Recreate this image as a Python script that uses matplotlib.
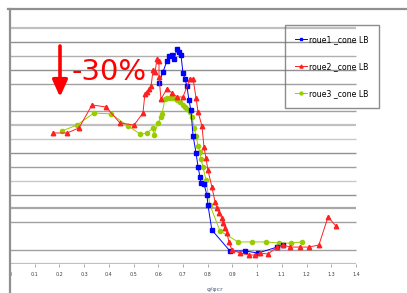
import matplotlib.pyplot as plt
from matplotlib.lines import Line2D

# data
roue1_x = [0.603, 0.619, 0.635, 0.643, 0.656, 0.664, 0.676, 0.684, 0.692, 0.700,
           0.708, 0.716, 0.724, 0.732, 0.741, 0.753, 0.761, 0.769, 0.773, 0.785,
           0.797, 0.801, 0.817, 0.890, 0.951, 1.004, 1.081, 1.105]
roue1_y = [13.04, 13.83, 14.63, 14.99, 15.06, 14.77, 15.49, 15.27, 15.06, 13.76,
           13.33, 12.82, 11.82, 11.10, 9.22, 8.00, 6.99, 6.27, 5.84, 5.76,
           4.97, 4.25, 2.45, 0.94, 0.94, 0.79, 1.22, 1.37]

roue2_x = [0.174, 0.231, 0.279, 0.332, 0.389, 0.445, 0.502, 0.538, 0.546, 0.554,
           0.563, 0.571, 0.579, 0.587, 0.595, 0.603, 0.603, 0.611, 0.635, 0.656,
           0.676, 0.700, 0.728, 0.741, 0.753, 0.761, 0.777, 0.785, 0.793, 0.801,
           0.817, 0.830, 0.838, 0.846, 0.858, 0.862, 0.870, 0.878, 0.886, 0.898,
           0.931, 0.967, 0.992, 1.012, 1.044, 1.081, 1.105, 1.133, 1.174, 1.210,
           1.250, 1.287, 1.319]
roue2_y = [9.44, 9.44, 9.80, 11.46, 11.31, 10.16, 10.01, 10.88, 12.25, 12.39,
           12.61, 12.82, 13.98, 13.83, 14.77, 14.63, 13.47, 11.89, 12.61, 12.32,
           12.03, 12.03, 13.33, 13.33, 11.96, 10.95, 9.94, 8.43, 7.64, 6.77,
           5.55, 4.47, 4.03, 3.67, 3.31, 2.95, 2.59, 2.23, 1.59, 1.01,
           0.79, 0.65, 0.65, 0.79, 0.72, 1.22, 1.37, 1.22, 1.22, 1.22,
           1.37, 3.39, 2.74]

roue3_x = [0.210, 0.271, 0.340, 0.409, 0.478, 0.526, 0.554, 0.579, 0.583, 0.599,
           0.611, 0.615, 0.627, 0.635, 0.648, 0.660, 0.676, 0.688, 0.700, 0.708,
           0.716, 0.728, 0.737, 0.745, 0.753, 0.761, 0.769, 0.773, 0.781, 0.793,
           0.809, 0.850, 0.923, 0.979, 1.036, 1.089, 1.137, 1.182]
roue3_y = [9.58, 10.01, 10.88, 10.81, 9.94, 9.37, 9.44, 9.80, 9.29, 10.16,
           10.59, 10.81, 11.89, 11.96, 11.96, 11.96, 11.82, 11.67, 11.46, 11.31,
           11.17, 10.95, 10.59, 9.80, 9.22, 8.50, 8.07, 7.56, 6.99, 6.05,
           4.25, 2.38, 1.59, 1.59, 1.59, 1.51, 1.51, 1.59]

x_ticks = [0, 0.1, 0.2, 0.3, 0.4, 0.5, 0.6, 0.7, 0.8, 0.9, 1, 1.1, 1.2, 1.3, 1.4]
x_tick_labels = ['0', '0.1', '0.2', '0.3', '0.4', '0.5', '0.6', '0.7', '0.8',
                 '0.9', '1', '1.1', '1.2', '1.3', '1.4']
grid_levels = [0, 1, 3, 4, 5, 6, 7, 8, 9, 10, 11, 13, 14, 15, 16, 17]
grid_colors = ['#c0c0c0', '#a0a0a0', '#a0a0a0', '#a8a8a8', '#909090', '#c8c8c8',
               '#a0a0a0', '#909090', '#c8c8c8', '#c0c0c0', '#a0a0a0', '#a0a0a0',
               '#909090', '#b0b0b0', '#909090', '#c0c0c0']

W, H = 407, 293
fig = plt.figure(figsize=(W / 100, H / 100), dpi=100)
fig.patch.set_facecolor('white')

# axes box in pixels: x 10..407, y 9..264
ax = fig.add_axes([10 / W, (H - 264) / H, (407 - 10) / W, (264 - 9) / H])
ax.set_xlim(0, (407 - 10) / 247.1)
ax.set_ylim(0, (264 - 9) / 13.88)
for s in ax.spines.values():
    s.set_visible(False)

# horizontal grid only up to x = 1.4
for lvl, c in zip(grid_levels, grid_colors):
    lw = 1.6 if lvl in (0, 4, 10, 17) else 1.0
    ax.hlines(lvl, 0, 1.4, colors=c, linewidth=lw, zorder=1)

ax.plot(roue1_x, roue1_y, color='#0000ff', linewidth=0.7, marker='s',
        markersize=3.0, label='roue1 _cone LB', zorder=3)
ax.plot(roue2_x, roue2_y, color='#ff2020', linewidth=0.7, marker='^',
        markersize=3.2, label='roue2 _cone LB', zorder=4)
ax.plot(roue3_x, roue3_y, color='#99cc00', linewidth=0.7, marker='o',
        markersize=3.0, label='roue3 _cone LB', zorder=2)

ax.set_yticks([])
ax.set_xticks(x_ticks)
ax.set_xticklabels(x_tick_labels, fontsize=3.5, color='#404040')
ax.tick_params(axis='x', length=2, width=0.6, color='#999999', pad=4)
ax.set_xlabel('φ/φcr', fontsize=4.5, color='#506080')
ax.xaxis.set_label_coords(205 / (407 - 10), -23 / 255)

# -30% annotation
ax.annotate('', xy=(50 / 247.1, (264 - 97) / 13.88),
            xytext=(50 / 247.1, (264 - 46) / 13.88),
            arrowprops=dict(arrowstyle='-|>,head_width=0.45,head_length=1.0',
                            color='#ff0000', linewidth=2.6, shrinkA=0, shrinkB=0))
ax.text(62 / 247.1, (264 - 72) / 13.88, '-30%', color='#ff0000',
        fontsize=21, va='center', ha='left')

leg = ax.legend(loc='upper left', bbox_to_anchor=((281 - 10) / 397, (264 - 21) / 255),
                fontsize=5.6, frameon=True, fancybox=False, handlelength=1.6,
                labelspacing=2.3, borderpad=1.3, handletextpad=0.2,
                markerscale=0.7)
leg.get_frame().set_edgecolor('#707070')
leg.get_frame().set_facecolor('none')
leg.get_frame().set_linewidth(1.0)

# outer frame lines (top and left) as in the cropped chart area
fig.add_artist(Line2D([8 / W, 1], [(H - 9) / H] * 2, color='#909090', linewidth=1.6))
fig.add_artist(Line2D([9.5 / W] * 2, [0, (H - 9) / H], color='#909090', linewidth=1.6))

fig.savefig('out.png', dpi=100)
